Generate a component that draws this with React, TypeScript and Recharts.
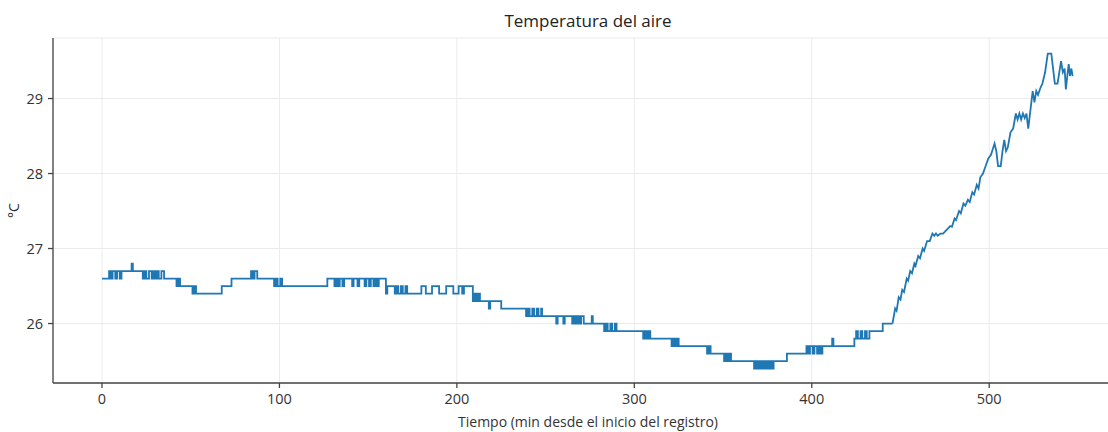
import React from "react";
import {
  LineChart,
  Line,
  XAxis,
  YAxis,
  CartesianGrid,
  Label,
} from "recharts";

// [minutos, °C] — tramo casi plano, lecturas cuantizadas a 0.1 °C
const tramoEstable: [number, number][] = [
  [0, 26.6], [4, 26.7], [5, 26.6], [6, 26.7], [7.5, 26.6], [8.5, 26.7], [10, 26.6], [11, 26.7],
  [16.7, 26.8], [17.4, 26.7],
  [23, 26.6], [24, 26.7], [25, 26.6], [26.5, 26.7], [28, 26.6], [29, 26.7], [30, 26.6], [31, 26.7],
  [32, 26.6], [33.5, 26.7], [35, 26.6],
  [42, 26.5], [43, 26.6], [44, 26.5],
  [51, 26.4], [52, 26.5], [53, 26.4],
  [67.5, 26.5], [73, 26.6],
  [84, 26.7], [85, 26.6], [86, 26.7], [87.5, 26.6],
  [97, 26.5], [98, 26.6], [99, 26.5], [100.5, 26.6], [101.5, 26.5],
  [127, 26.6],
  [131, 26.5], [132, 26.6], [133, 26.5], [134, 26.6], [135.5, 26.5], [136.5, 26.6],
  [141, 26.5], [141.8, 26.6], [144, 26.5], [145, 26.6], [148, 26.5], [149, 26.6],
  [150.5, 26.5], [151.5, 26.6], [153, 26.5], [154, 26.6], [155, 26.5], [156, 26.6],
  [160, 26.4], [160.8, 26.5],
  [165, 26.4], [166, 26.5], [167, 26.4], [168.5, 26.5], [169.5, 26.4], [171, 26.5], [172, 26.4],
  [180, 26.5], [182.5, 26.4], [186, 26.5], [190, 26.4], [194, 26.5], [198, 26.4],
  [201, 26.5], [203, 26.4], [204, 26.5],
  [209, 26.3], [210, 26.4], [211, 26.3], [212, 26.4], [213, 26.3],
  [218, 26.2], [218.8, 26.3],
  [225, 26.2],
  [239, 26.1], [240, 26.2], [241, 26.1], [242.5, 26.2], [243.5, 26.1], [245, 26.2], [246, 26.1],
  [247.5, 26.2], [248, 26.1],
  [256, 26.0], [256.8, 26.1], [260, 26.0], [260.8, 26.1],
  [265, 26.0], [266, 26.1], [267, 26.0], [268, 26.1], [269, 26.0], [270, 26.1], [271.5, 26.0],
  [276, 26.1], [276.6, 26.0],
  [283, 25.9], [284, 26.0], [285, 25.9], [286.5, 26.0], [287.5, 25.9], [289, 26.0], [290, 25.9],
  [305, 25.8], [306, 25.9], [307, 25.8], [308, 25.9], [309, 25.8],
  [321, 25.7], [322, 25.8], [323, 25.7], [324, 25.8], [325, 25.7],
  [341, 25.6], [342, 25.7], [343, 25.6],
  [350.6, 25.5], [351.5, 25.6], [352.5, 25.5], [353.5, 25.6], [354.5, 25.5],
  [367.5, 25.4], [368.5, 25.5], [369.5, 25.4], [370.5, 25.5], [371.5, 25.4], [372.5, 25.5],
  [373.5, 25.4], [374.5, 25.5], [375.5, 25.4], [376.5, 25.5], [377.5, 25.4], [378.5, 25.5],
  [386, 25.6],
  [397, 25.7], [398, 25.6], [399, 25.7], [400.5, 25.6], [401.5, 25.7], [403, 25.6], [404, 25.7],
  [405, 25.6], [406, 25.7],
  [411.5, 25.8], [412.2, 25.7],
  [424, 25.8], [425, 25.9], [426, 25.8], [427.5, 25.9], [428.5, 25.8], [430, 25.9], [431, 25.8],
  [432.5, 25.9],
  [440, 26.0], [445.5, 26.0],
];

// [minutos, °C] — subida final
const tramoSubida: [number, number][] = [
  [445.5, 26.0], [447, 26.2], [447.8, 26.17], [449, 26.35], [450, 26.32], [451, 26.45], [452, 26.42],
  [453.5, 26.6], [454.3, 26.57], [455.5, 26.7], [456.5, 26.67], [457.8, 26.8], [458.5, 26.77],
  [460, 26.9], [461, 26.87], [462.5, 27.0], [463.3, 26.97], [465, 27.1], [466.5, 27.1],
  [468, 27.2], [469, 27.17], [470, 27.2], [471, 27.17], [472.5, 27.2], [474, 27.2], [476, 27.25],
  [478, 27.3], [479, 27.29], [480.5, 27.4], [481.3, 27.38], [483, 27.5], [484, 27.47],
  [485.5, 27.6], [486.5, 27.57], [488, 27.65], [489, 27.62], [490.5, 27.75], [491.5, 27.72],
  [493, 27.85], [494, 27.8], [495, 27.95], [496.5, 28.0], [498, 28.1], [499.5, 28.2],
  [501, 28.25], [503, 28.4], [504, 28.3], [505, 28.1], [506.5, 28.1], [507.5, 28.3],
  [508.5, 28.45], [509.5, 28.3], [510.5, 28.35], [512, 28.55], [513.5, 28.6], [515, 28.8],
  [516, 28.72], [517, 28.8], [518, 28.72], [519, 28.8], [520, 28.74], [521, 28.8], [522, 28.6],
  [523, 28.8], [524.5, 29.1], [525.5, 28.95], [526.5, 29.1], [527.5, 29.05], [529, 29.15],
  [530, 29.2], [531.5, 29.35], [533, 29.6], [535, 29.6], [536, 29.4], [537, 29.2], [538.5, 29.2],
  [539.5, 29.35], [540.5, 29.5], [541.5, 29.35], [542.5, 29.4], [543.2, 29.12], [544, 29.3],
  [544.8, 29.46], [545.5, 29.3], [546.3, 29.4], [547, 29.3],
];

const ticksX = [0, 100, 200, 300, 400, 500];
const ticksY = [26, 27, 28, 29];

const datosEstable = tramoEstable.map(([min, temp]) => ({ min, temp }));
const datosSubida = tramoSubida.map(([min, temp]) => ({ min, temp }));

const FONT = "'Open Sans', sans-serif";
const AZUL = "#1f77b4";
const MARCO = "#444";

const App = () => {
  return (
    <div
      style={{
        position: "absolute",
        left: 0,
        top: 0,
        width: 1108,
        height: 432,
        overflow: "hidden",
        background: "#fff",
        fontFamily: FONT,
      }}
    >
      <div
        style={{
          position: "absolute",
          left: 0,
          width: 1176,
          top: 9,
          textAlign: "center",
          fontSize: 17,
          color: "#222",
        }}
      >
        Temperatura del aire
      </div>
      <LineChart
        width={1139}
        height={432}
        margin={{ top: 38, right: 16, left: 0, bottom: 0 }}
      >
        <CartesianGrid stroke="#ebebeb" strokeWidth={1} />
        <XAxis
          dataKey="min"
          type="number"
          domain={[-27.6, 575.4]}
          ticks={ticksX}
          allowDataOverflow
          height={49}
          tickSize={5}
          tickMargin={6}
          tick={{ fontSize: 14.5, fill: "#333", fontFamily: FONT }}
          stroke={MARCO}
          strokeWidth={1.3}
        >
          <Label
            value="Tiempo (min desde el inicio del registro)"
            position="insideBottom"
            offset={5}
            style={{ fontSize: 14, fill: "#333", fontFamily: FONT }}
          />
        </XAxis>
        <XAxis
          xAxisId="arriba"
          orientation="top"
          type="number"
          domain={[-27.6, 575.4]}
          height={0}
          tick={false}
          tickLine={false}
          stroke={MARCO}
          strokeWidth={1.3}
        />
        <YAxis
          type="number"
          domain={[25.207, 29.807]}
          ticks={ticksY}
          allowDataOverflow
          width={53}
          tickSize={5}
          tickMargin={5}
          tick={{ fontSize: 14.5, fill: "#333", fontFamily: FONT }}
          stroke={MARCO}
          strokeWidth={1.3}
        >
          <Label
            value="°C"
            angle={-90}
            position="insideLeft"
            offset={14}
            style={{ fontSize: 14, fill: "#333", fontFamily: FONT, textAnchor: "middle" }}
          />
        </YAxis>
        <YAxis
          yAxisId="derecha"
          orientation="right"
          width={0}
          tick={false}
          tickLine={false}
          stroke={MARCO}
          strokeWidth={1.3}
        />
        <Line
          data={datosEstable}
          dataKey="temp"
          type="stepAfter"
          stroke={AZUL}
          strokeWidth={1.8}
          dot={false}
          isAnimationActive={false}
        />
        <Line
          data={datosSubida}
          dataKey="temp"
          type="linear"
          stroke={AZUL}
          strokeWidth={1.8}
          dot={false}
          isAnimationActive={false}
        />
      </LineChart>
    </div>
  );
};

export default App;
